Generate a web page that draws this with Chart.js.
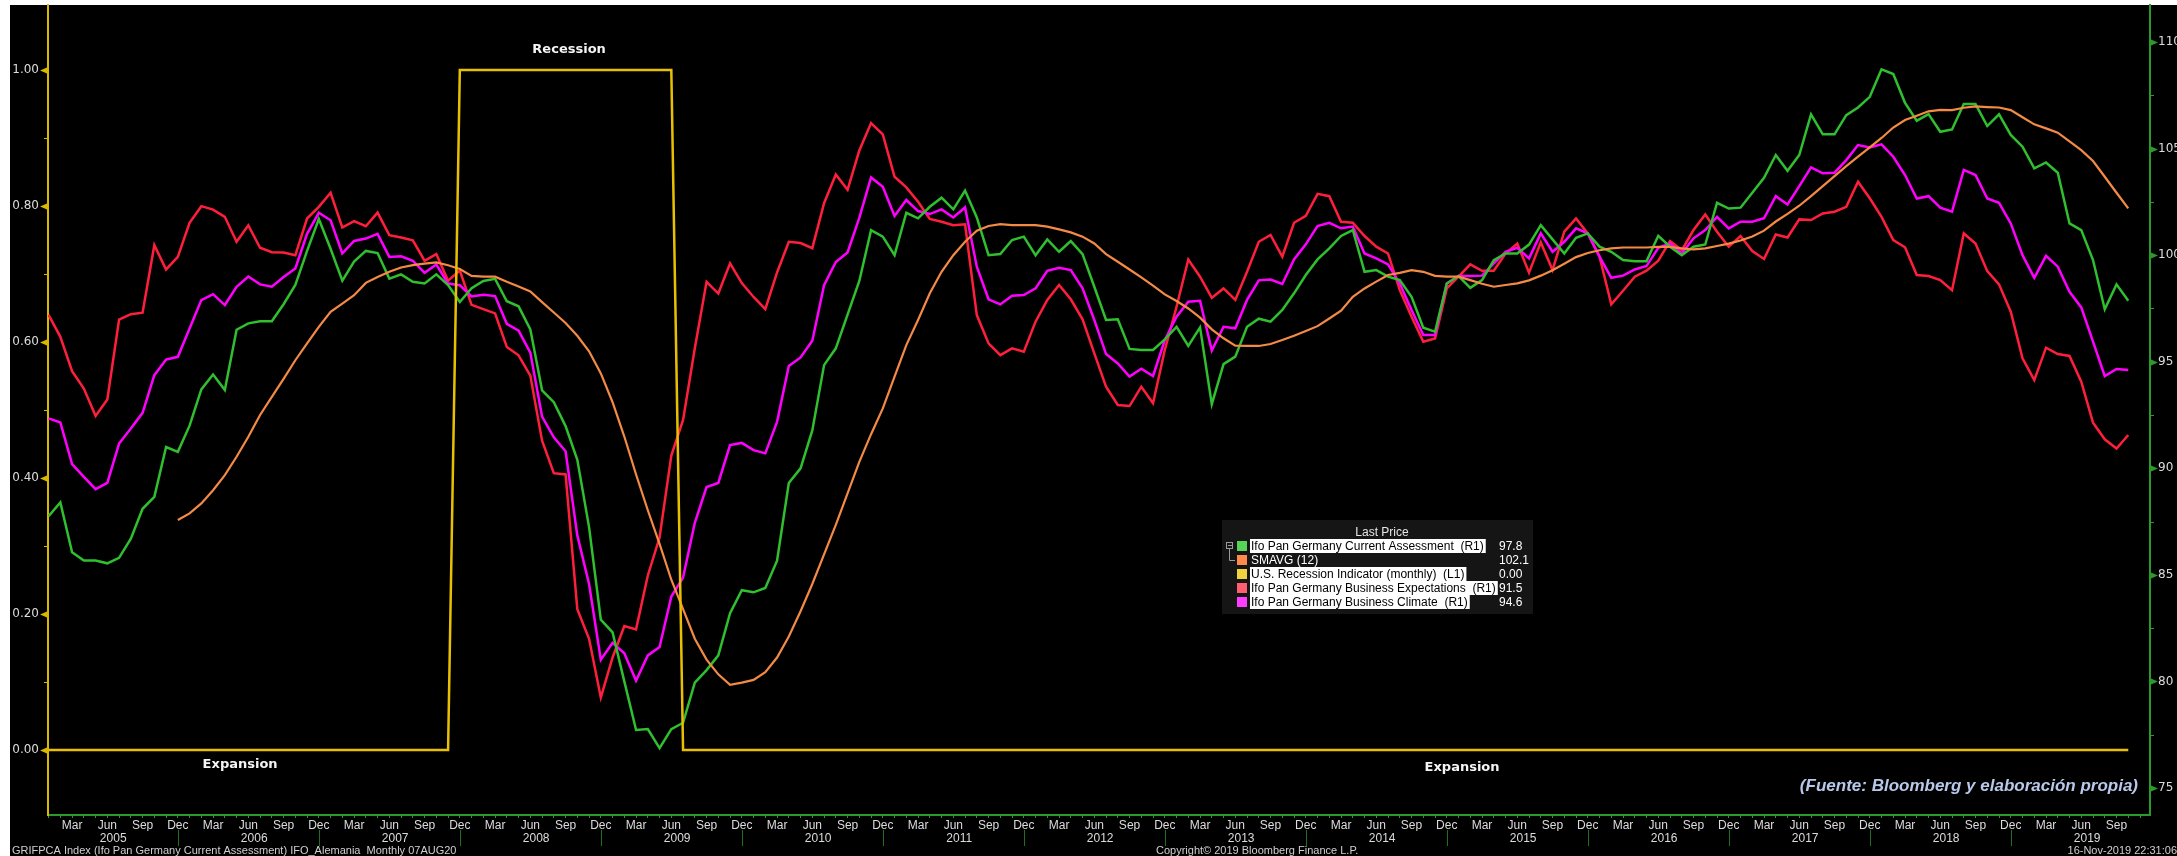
<!DOCTYPE html>
<html>
<head>
<meta charset="utf-8">
<script src="https://cdn.jsdelivr.net/npm/chart.js@4.4.0/dist/chart.umd.min.js"></script>
<style>
html,body{margin:0;padding:0;background:#ffffff;overflow:hidden}
#wrap{width:2177px;height:856px;position:relative}
canvas{display:block}
</style>
</head>
<body>
<div id="wrap"><canvas id="c" width="2177" height="856"></canvas></div>
<script>
// ---------------- DATA ----------------
const monthNames = ['Jan','Feb','Mar','Apr','May','Jun','Jul','Aug','Sep','Oct','Nov','Dec'];
const shownMonths = ['Mar','Jun','Sep','Dec'];
const years = ['2005','2006','2007','2008','2009','2010','2011','2012','2013','2014','2015','2016','2017','2018','2019'];

// Ifo Pan Germany Current Assessment (R1), monthly Jan 2005 - Oct 2019
const currentAssessment = [
 87.75,88.4,86.06,85.67,85.67,85.54,85.8,86.7,88.1,88.66,91.0,90.77,
 92.0,93.7,94.4,93.67,96.5,96.8,96.9,96.9,97.7,98.6,100.2,101.7,
 100.3,98.8,99.7,100.2,100.1,98.9,99.1,98.75,98.67,99.1,98.6,97.8,
 98.45,98.79,98.89,97.84,97.6,96.52,93.66,93.1,91.98,90.4,87.24,82.9,
 82.3,80.0,77.72,77.76,76.87,77.76,78.06,79.94,80.53,81.22,83.2,84.28,
 84.18,84.38,85.66,89.31,90.0,91.78,94.84,95.63,97.21,98.79,101.17,100.87,
 100.0,101.99,101.73,102.27,102.7,102.15,103.03,101.77,100.0,100.05,100.71,100.87,
 100.0,100.74,100.16,100.66,100.05,98.52,96.96,96.99,95.6,95.55,95.55,96.05,
 96.64,95.74,96.61,93.01,94.89,95.24,96.64,97.02,96.88,97.43,98.21,99.07,
 99.8,100.32,100.9,101.18,99.22,99.3,98.99,98.83,98.05,96.6,96.41,98.67,
 99.02,98.47,98.83,99.77,100.08,100.08,100.5,101.41,100.74,100.08,100.82,101.02,
 100.4,100.16,99.77,99.72,99.72,100.91,100.4,100.0,100.4,100.5,102.46,102.19,
 102.23,102.93,103.63,104.7,103.96,104.7,106.61,105.67,105.67,106.57,106.93,107.43,
 108.72,108.5,107.15,106.31,106.62,105.79,105.9,107.09,107.09,106.06,106.61,105.64,
 105.09,104.07,104.35,103.87,101.49,101.18,99.77,97.46,98.63,97.86
];

// SMAVG (12), starts Dec 2005
const smavgStartIndex = 11;
const smavg12 = [
 87.57,
 87.88,88.35,88.97,89.68,90.54,91.48,92.5,93.35,94.2,95.07,95.86,96.64,
 97.34,97.73,98.12,98.7,98.98,99.22,99.42,99.53,99.6,99.66,99.53,99.35,
 99.03,98.99,98.99,98.75,98.53,98.3,97.8,97.31,96.82,96.22,95.49,94.45,
 93.1,91.49,89.71,88.03,86.45,84.77,83.39,82.0,81.02,80.33,79.84,79.94,
 80.07,80.43,81.12,82.11,83.29,84.57,85.96,87.34,88.82,90.3,91.6,92.81,
 94.3,95.78,96.96,98.21,99.22,100.0,100.63,101.15,101.37,101.46,101.41,101.41,
 101.41,101.34,101.21,101.07,100.87,100.55,100.05,99.69,99.33,98.96,98.57,98.16,
 97.85,97.5,97.07,96.52,96.1,95.75,95.74,95.74,95.83,96.02,96.22,96.44,
 96.67,97.03,97.4,98.05,98.44,98.76,99.07,99.17,99.3,99.22,99.03,98.99,
 98.99,98.83,98.66,98.52,98.6,98.68,98.82,99.04,99.29,99.6,99.91,100.1,
 100.23,100.32,100.36,100.36,100.36,100.39,100.39,100.32,100.27,100.32,100.43,100.54,
 100.69,100.88,101.15,101.58,101.94,102.32,102.77,103.24,103.71,104.18,104.62,105.06,
 105.5,105.99,106.34,106.54,106.75,106.82,106.81,106.92,106.98,106.95,106.93,106.81,
 106.47,106.14,105.95,105.75,105.34,104.93,104.42,103.68,102.93,102.2
];

// U.S. Recession Indicator (monthly) (L1)
const recession = [
 0,0,0,0,0,0,0,0,0,0,0,0,
 0,0,0,0,0,0,0,0,0,0,0,0,
 0,0,0,0,0,0,0,0,0,0,0,1,
 1,1,1,1,1,1,1,1,1,1,1,1,
 1,1,1,1,1,1,0,0,0,0,0,0,
 0,0,0,0,0,0,0,0,0,0,0,0,
 0,0,0,0,0,0,0,0,0,0,0,0,
 0,0,0,0,0,0,0,0,0,0,0,0,
 0,0,0,0,0,0,0,0,0,0,0,0,
 0,0,0,0,0,0,0,0,0,0,0,0,
 0,0,0,0,0,0,0,0,0,0,0,0,
 0,0,0,0,0,0,0,0,0,0,0,0,
 0,0,0,0,0,0,0,0,0,0,0,0,
 0,0,0,0,0,0,0,0,0,0,0,0,
 0,0,0,0,0,0,0,0,0,0
];

// Ifo Pan Germany Business Expectations (R1)
const expectations = [
 97.2,96.17,94.56,93.74,92.46,93.23,96.98,97.23,97.3,100.47,99.33,99.92,
 101.52,102.3,102.14,101.8,100.63,101.4,100.35,100.14,100.13,100.0,101.72,102.27,
 102.93,101.3,101.6,101.36,102.0,100.94,100.83,100.7,99.74,100.05,98.8,99.28,
 97.67,97.47,97.27,95.69,95.3,94.35,91.29,89.77,89.71,83.39,82.0,79.24,
 81.12,82.6,82.44,84.97,86.75,90.6,92.27,95.63,98.75,98.2,99.62,98.69,
 98.04,97.47,99.19,100.63,100.57,100.33,102.44,103.79,103.07,104.91,106.2,105.67,
 103.68,103.18,102.51,101.7,101.57,101.41,101.45,97.19,95.86,95.31,95.63,95.47,
 96.88,97.9,98.6,97.93,96.99,95.39,93.83,92.97,92.92,93.83,93.05,95.55,
 97.58,99.8,98.99,98.0,98.44,97.9,99.22,100.63,100.95,99.93,101.52,101.85,
 102.88,102.77,101.57,101.52,100.9,100.4,100.08,98.36,97.11,95.94,96.09,98.44,
 98.99,99.57,99.27,99.27,100.08,100.55,99.18,100.6,99.3,101.1,101.72,101.02,
 99.93,97.69,98.33,98.99,99.27,99.74,100.66,100.24,101.18,101.91,101.1,100.4,
 100.9,100.19,99.82,100.97,100.83,101.68,101.65,101.96,102.04,102.27,103.45,102.67,
 101.8,100.71,100.37,99.07,99.02,98.83,98.36,101.02,100.55,99.25,98.63,97.35,
 95.16,94.14,95.66,95.36,95.27,94.06,92.14,91.36,90.93,91.56
];

// Ifo Pan Germany Business Climate (R1)
const climate = [
 92.34,92.15,90.2,89.6,89.02,89.32,91.16,91.87,92.6,94.37,95.1,95.23,
 96.56,97.89,98.17,97.66,98.52,99.0,98.63,98.52,98.98,99.38,101.0,101.99,
 101.64,100.08,100.67,100.78,101.0,99.92,99.95,99.74,99.17,99.56,98.67,98.59,
 98.06,98.14,98.08,96.78,96.46,95.43,92.43,91.45,90.8,86.85,84.57,81.02,
 81.81,81.32,80.03,81.22,81.61,83.98,84.87,87.44,89.12,89.31,91.09,91.19,
 90.85,90.7,92.18,94.8,95.2,95.99,98.59,99.68,100.13,101.75,103.65,103.21,
 101.84,102.59,102.07,101.93,102.15,101.77,102.24,99.46,97.93,97.69,98.1,98.13,
 98.44,99.27,99.41,99.3,98.44,96.96,95.36,94.92,94.3,94.67,94.33,96.02,
 97.11,97.82,97.86,95.52,96.64,96.57,97.9,98.82,98.86,98.65,99.8,100.51,
 101.37,101.52,101.26,101.34,100.08,99.85,99.57,98.67,97.43,96.25,96.25,98.67,
 99.02,99.02,99.04,99.61,100.16,100.35,99.85,101.02,100.16,100.63,101.26,101.02,
 99.93,98.94,99.04,99.33,99.49,100.35,100.55,100.08,100.79,101.18,101.8,101.26,
 101.57,101.57,101.73,102.77,102.38,103.24,104.12,103.84,103.87,104.46,105.17,105.06,
 105.2,104.62,103.76,102.66,102.77,102.23,102.04,104.0,103.76,102.66,102.46,101.49,
 100.0,98.94,99.97,99.46,98.28,97.55,95.94,94.33,94.66,94.61
];

const leftTickValues = [0,0.1,0.2,0.3,0.4,0.5,0.6,0.7,0.8,0.9,1.0];
const rightTickValues = [75,77.5,80,82.5,85,87.5,90,92.5,95,97.5,100,102.5,105,107.5,110];

const legendTitle = 'Last Price';
const legendLabels = [
 'Ifo Pan Germany Current Assessment  (R1)',
 'SMAVG (12)',
 'U.S. Recession Indicator (monthly)  (L1)',
 'Ifo Pan Germany Business Expectations  (R1)',
 'Ifo Pan Germany Business Climate  (R1)'
];
const legendValues = ['97.8','102.1','0.00','91.5','94.6'];

const footerLeft = 'GRIFPCA Index (Ifo Pan Germany Current Assessment) IFO_Alemania  Monthly 07AUG20';
const footerMid = 'Copyright\u00A9 2019 Bloomberg Finance L.P.';
const footerRight = '16-Nov-2019 22:31:06';
const sourceNote = '(Fuente: Bloomberg y elaboraci\u00F3n propia)';

// ---------------- STYLE ----------------
const C = {
  green:'#2fbf2f', orange:'#f58a45', yellow:'#e8c000', red:'#ff1f3d', magenta:'#ff00ff',
  axisYellow:'#d9b800', axisGreen:'#2a9a2a', text:'#dcdcdc'
};
const legendSwatch = ['#55d455','#ff8a4c','#f2d23c','#ff5f70','#ff3cff'];
const legendHighlight = [true,false,true,true,true];
const narrow = '"Liberation Sans Narrow","Liberation Sans",Arial,sans-serif';

// ---------------- BUILD ----------------
const xMin = -0.05, xMax = 178.85;
const toXY = (arr, off) => arr.map((v,i)=>({x:i+(off||0), y:v}));
const noPad = s => { s.paddingTop=0; s.paddingBottom=0; s.paddingLeft=0; s.paddingRight=0; };

const decor = {
  id:'decor',
  beforeDraw(chart){
    const ctx = chart.ctx;
    ctx.save();
    ctx.fillStyle = '#ffffff';
    ctx.fillRect(0,0,chart.width,chart.height);
    ctx.fillStyle = '#000000';
    ctx.fillRect(10,5,chart.width-10,chart.height-5);
    ctx.restore();
  },
  afterDraw(chart){
    const ctx = chart.ctx;
    const sL = chart.scales.yL, sR = chart.scales.yR, sx = chart.scales.x;
    const area = chart.chartArea;
    ctx.save();
    // left axis tick markers
    leftTickValues.forEach(v=>{
      const y = Math.round(sL.getPixelForValue(v))+0.5;
      const major = Math.abs(v*5-Math.round(v*5))<1e-6;
      ctx.fillStyle = C.axisYellow; ctx.strokeStyle = C.axisYellow; ctx.lineWidth = 1;
      if(major){
        ctx.beginPath(); ctx.moveTo(area.left-1,y-3); ctx.lineTo(area.left-1,y+3); ctx.lineTo(area.left-8,y); ctx.closePath(); ctx.fill();
      } else {
        ctx.beginPath(); ctx.moveTo(area.left-4,y); ctx.lineTo(area.left,y); ctx.stroke();
      }
    });
    // right axis tick markers
    rightTickValues.forEach(v=>{
      const y = Math.round(sR.getPixelForValue(v))+0.5;
      const major = v%5===0;
      ctx.fillStyle = C.axisGreen; ctx.strokeStyle = C.axisGreen; ctx.lineWidth = 1;
      if(major){
        ctx.beginPath(); ctx.moveTo(area.right+1,y-3); ctx.lineTo(area.right+1,y+3); ctx.lineTo(area.right+8,y); ctx.closePath(); ctx.fill();
      } else {
        ctx.beginPath(); ctx.moveTo(area.right,y); ctx.lineTo(area.right+4,y); ctx.stroke();
      }
    });
    // year separators (at December)
    ctx.strokeStyle = '#1f6f1f'; ctx.lineWidth = 1;
    years.forEach((y,k)=>{
      const idx = 11+12*k;
      if(idx>xMax) return;
      const px = Math.round(sx.getPixelForValue(idx))+0.5;
      ctx.beginPath(); ctx.moveTo(px,830); ctx.lineTo(px,846); ctx.stroke();
    });
    // annotations
    ctx.fillStyle = '#f4f4f4';
    ctx.font = 'bold 13px "DejaVu Sans",sans-serif';
    ctx.textAlign = 'center'; ctx.textBaseline = 'middle';
    ctx.fillText('Recession', sx.getPixelForValue(44.3), sL.getPixelForValue(1.0)-20);
    ctx.fillText('Expansion', sx.getPixelForValue(16.3), sL.getPixelForValue(0)+15);
    ctx.fillText('Expansion', sx.getPixelForValue(120.3), sL.getPixelForValue(0)+18);
    // source note
    ctx.font = 'italic bold 17px "Liberation Sans",Arial,sans-serif';
    ctx.fillStyle = '#b8c8ea';
    ctx.textAlign = 'right';
    ctx.fillText(sourceNote, 2138, 786);
    // legend
    const lx = 1222, ly = 520, lw = 311, lh = 94;
    ctx.fillStyle = '#151515';
    ctx.fillRect(lx,ly,lw,lh);
    ctx.font = '12px "Liberation Sans",Arial,sans-serif';
    ctx.textAlign = 'center'; ctx.fillStyle = '#e6e6e6';
    ctx.fillText(legendTitle, 1382, 533);
    ctx.textAlign = 'left';
    legendLabels.forEach((lab,i)=>{
      const cy = 546 + i*14;
      ctx.fillStyle = legendSwatch[i];
      ctx.fillRect(1237, cy-5, 10, 10);
      const w = ctx.measureText(lab).width;
      if(legendHighlight[i]){
        ctx.fillStyle = '#ffffff';
        ctx.fillRect(1250, cy-7, w+3, 14);
        ctx.fillStyle = '#000000';
      } else {
        ctx.fillStyle = '#ffffff';
      }
      ctx.fillText(lab, 1251, cy+1);
      ctx.fillStyle = '#ffffff';
      ctx.fillText(legendValues[i], 1499, cy+1);
    });
    // tree glyph
    ctx.strokeStyle = '#9a9a9a'; ctx.lineWidth = 1;
    ctx.strokeRect(1226.5, 542.5, 6, 6);
    ctx.beginPath(); ctx.moveTo(1228,545.5); ctx.lineTo(1232,545.5); ctx.stroke();
    ctx.beginPath(); ctx.moveTo(1229.5,549); ctx.lineTo(1229.5,560.5); ctx.lineTo(1235,560.5); ctx.stroke();
    // footer
    ctx.font = '11px "Liberation Sans",Arial,sans-serif';
    ctx.fillStyle = '#d0d0d0';
    ctx.textAlign = 'left';
    ctx.fillText(footerLeft, 12, 851);
    ctx.fillText(footerMid, 1156, 851);
    ctx.textAlign = 'right';
    ctx.fillText(footerRight, 2177, 851);
    ctx.restore();
  }
};

new Chart(document.getElementById('c'), {
  type:'line',
  data:{
    datasets:[
      {label:'U.S. Recession Indicator (monthly)', data:toXY(recession), yAxisID:'yL', borderColor:C.yellow, borderWidth:2.5, order:0},
      {label:'SMAVG (12)', data:toXY(smavg12, smavgStartIndex), yAxisID:'yR', borderColor:C.orange, borderWidth:2.2, order:1},
      {label:'Ifo Pan Germany Current Assessment', data:toXY(currentAssessment), yAxisID:'yR', borderColor:C.green, borderWidth:2.5, order:2},
      {label:'Ifo Pan Germany Business Climate', data:toXY(climate), yAxisID:'yR', borderColor:C.magenta, borderWidth:2.5, order:3},
      {label:'Ifo Pan Germany Business Expectations', data:toXY(expectations), yAxisID:'yR', borderColor:C.red, borderWidth:2.5, order:4}
    ]
  },
  options:{
    responsive:false, animation:false, devicePixelRatio:1,
    layout:{padding:{left:10, top:5, right:0, bottom:11}},
    elements:{point:{radius:0, hoverRadius:0}, line:{tension:0, fill:false}},
    plugins:{legend:{display:false}, tooltip:{enabled:false}},
    events:[],
    scales:{
      x:{
        type:'linear', position:'bottom', min:xMin, max:xMax, weight:0,
        afterFit:s=>{s.height=16; noPad(s);},
        afterBuildTicks:axis=>{ const t=[]; for(let i=0;i<=178;i++) t.push({value:i}); axis.ticks=t; },
        grid:{drawOnChartArea:false, drawTicks:true, tickLength:3, tickColor:C.axisGreen, color:C.axisGreen},
        border:{display:true, color:C.axisGreen, width:2},
        ticks:{autoSkip:false, maxRotation:0, minRotation:0, padding:0, color:C.text,
          font:{family:narrow, size:12},
          callback:(v)=>{ const m=monthNames[((v%12)+12)%12]; return shownMonths.includes(m)?m:''; }}
      },
      x2:{
        type:'linear', position:'bottom', min:xMin, max:xMax, weight:1,
        afterFit:s=>{s.height=14; noPad(s);},
        afterBuildTicks:axis=>{ axis.ticks = years.map((y,k)=>({value:5.5+12*k})); },
        grid:{display:false, drawTicks:false},
        border:{display:false},
        ticks:{autoSkip:false, maxRotation:0, padding:0, color:C.text,
          font:{family:narrow, size:12},
          callback:(v,idx)=>years[idx]}
      },
      yL:{
        type:'linear', position:'left', min:-0.0956, max:1.0956,
        afterFit:s=>{s.width=38; noPad(s);},
        afterBuildTicks:axis=>{ axis.ticks = leftTickValues.map(v=>({value:v})); },
        grid:{drawOnChartArea:false, drawTicks:false, color:'transparent'},
        border:{display:true, color:C.axisYellow, width:2},
        ticks:{padding:9, color:C.text, font:{family:'"DejaVu Sans",sans-serif', size:12},
          callback:(v)=>{ return Math.abs(v*5-Math.round(v*5))<1e-6 ? v.toFixed(2) : ''; }}
      },
      yR:{
        type:'linear', position:'right', min:73.73, max:111.74,
        afterFit:s=>{s.width=27; noPad(s);},
        afterBuildTicks:axis=>{ axis.ticks = rightTickValues.map(v=>({value:v})); },
        grid:{drawOnChartArea:false, drawTicks:false, color:'transparent'},
        border:{display:true, color:C.axisGreen, width:2},
        ticks:{padding:8, color:C.text, font:{family:'"DejaVu Sans",sans-serif', size:12},
          callback:(v)=>{ return v%5===0 ? String(v) : ''; }}
      }
    }
  },
  plugins:[decor]
});
</script>
</body>
</html>
